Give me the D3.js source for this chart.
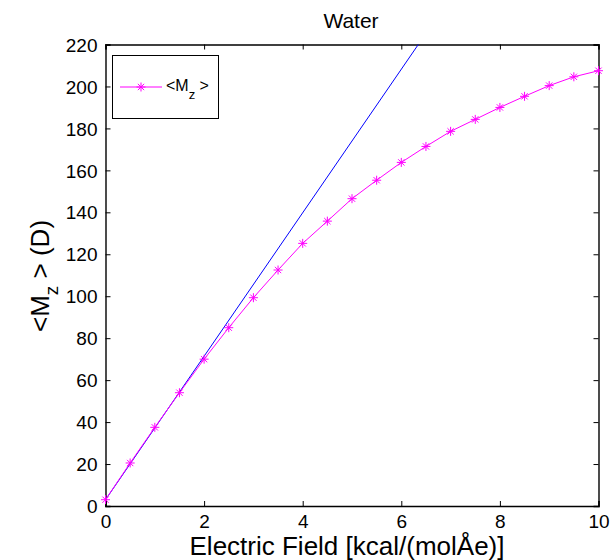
<!DOCTYPE html>
<html>
<head>
<meta charset="utf-8">
<script src="https://cdn.jsdelivr.net/npm/d3@7"></script>
<style>
  body { margin: 0; background: #fff; }
  svg { display: block; font-family: Arial, "Liberation Sans", Helvetica, sans-serif; }
</style>
</head>
<body>
<svg id="chart" width="610" height="560"></svg>
<script>
// ---- data ----
const fieldValues = [0, 0.5, 1, 1.5, 2, 2.5, 3, 3.5, 4, 4.5, 5, 5.5, 6, 6.5, 7, 7.5, 8, 8.5, 9, 9.5, 10];
const mzValues = [3, 20.5, 37.5, 54, 70, 85, 99.3, 112.5, 125.2, 135.8, 146.5, 155.3, 163.8, 171.4, 178.6, 184.3, 190, 195.3, 200.4, 204.6, 207.5];
const linearX = [0, 10];
const linearY = [3, 345];
const xTicks = [0, 2, 4, 6, 8, 10];
const yTicks = [0, 20, 40, 60, 80, 100, 120, 140, 160, 180, 200, 220];
const titleText = "Water";
const xLabelText = "Electric Field [kcal/(molÅe)]";

const svg = d3.select("#chart");
const L = 105.5, R = 598.5, T = 44.5, B = 506;
const x = d3.scaleLinear().domain([0, 10]).range([L, R]);
const y = d3.scaleLinear().domain([0, 220]).range([B, T]);

svg.append("defs").append("clipPath").attr("id", "clip")
  .append("rect").attr("x", L).attr("y", T).attr("width", R - L).attr("height", B - T);

// axes
const tickLen = 5;
const gx = svg.append("g").attr("transform", `translate(0,${B})`)
  .call(d3.axisBottom(x).tickValues(xTicks).tickSize(-tickLen).tickPadding(9).tickFormat(d3.format("d")));
const gxt = svg.append("g").attr("transform", `translate(0,${T})`)
  .call(d3.axisTop(x).tickValues(xTicks).tickSize(-tickLen).tickFormat(""));
const gy = svg.append("g").attr("transform", `translate(${L},0)`)
  .call(d3.axisLeft(y).tickValues(yTicks).tickSize(-tickLen).tickPadding(8).tickFormat(d3.format("d")));
const gyr = svg.append("g").attr("transform", `translate(${R},0)`)
  .call(d3.axisRight(y).tickValues(yTicks).tickSize(-tickLen).tickFormat(""));
[gx, gxt, gy, gyr].forEach(g => {
  g.select(".domain").attr("stroke", "#000").attr("stroke-width", 1.4);
  g.selectAll(".tick line").attr("stroke", "#000").attr("stroke-width", 1);
  g.selectAll("text").attr("font-size", 19).attr("fill", "#000")
    .attr("font-family", "Arial, 'Liberation Sans', sans-serif");
});
gx.selectAll("text").attr("dy", "0.71em");
gy.selectAll("text").attr("dy", "0.35em");

const plot = svg.append("g").attr("clip-path", "url(#clip)");

// linear line
plot.append("path")
  .datum(linearX.map((v, i) => [v, linearY[i]]))
  .attr("fill", "none").attr("stroke", "#0000ff").attr("stroke-width", 1)
  .attr("d", d3.line().x(d => x(d[0])).y(d => y(d[1])));

// data line
const pts = fieldValues.map((v, i) => [v, mzValues[i]]);
plot.append("path").datum(pts)
  .attr("fill", "none").attr("stroke", "#ff00ff").attr("stroke-width", 1)
  .attr("d", d3.line().x(d => x(d[0])).y(d => y(d[1])));

function star(g, cx, cy, s) {
  const p = `M${cx - s},${cy}L${cx + s},${cy}M${cx},${cy - s}L${cx},${cy + s}` +
    `M${cx - s * 0.7},${cy - s * 0.7}L${cx + s * 0.7},${cy + s * 0.7}` +
    `M${cx - s * 0.7},${cy + s * 0.7}L${cx + s * 0.7},${cy - s * 0.7}`;
  g.append("path").attr("d", p).attr("stroke", "#ff00ff").attr("stroke-width", 1).attr("fill", "none");
}
const mk = svg.append("g");
pts.forEach(d => star(mk, x(d[0]), y(d[1]), 4.5));

// title
svg.append("text").attr("x", 351).attr("y", 28).attr("text-anchor", "middle")
  .attr("font-size", 21).text(titleText);

// x label
svg.append("text").attr("x", 347).attr("y", 555).attr("text-anchor", "middle")
  .attr("font-size", 26).text(xLabelText);

// y label
const yl = svg.append("text")
  .attr("transform", "translate(49,276) rotate(-90)")
  .attr("text-anchor", "middle").attr("font-size", 26);
yl.append("tspan").text("<M");
yl.append("tspan").attr("font-size", 19).attr("dy", 9).text("z");
yl.append("tspan").attr("dy", -9).text(" > (D)");

// legend
const lg = svg.append("g");
lg.append("rect").attr("x", 112.5).attr("y", 55.5).attr("width", 106).attr("height", 63)
  .attr("fill", "#fff").attr("stroke", "#000").attr("stroke-width", 1);
lg.append("line").attr("x1", 120).attr("x2", 162).attr("y1", 87).attr("y2", 87)
  .attr("stroke", "#ff00ff").attr("stroke-width", 1);
star(lg, 141, 87, 4.5);
const lt = lg.append("text").attr("x", 166).attr("y", 91).attr("font-size", 16);
lt.append("tspan").text("<M");
lt.append("tspan").attr("font-size", 13).attr("dy", 8).text("z");
lt.append("tspan").attr("dy", -8).text(" >");
</script>
</body>
</html>
